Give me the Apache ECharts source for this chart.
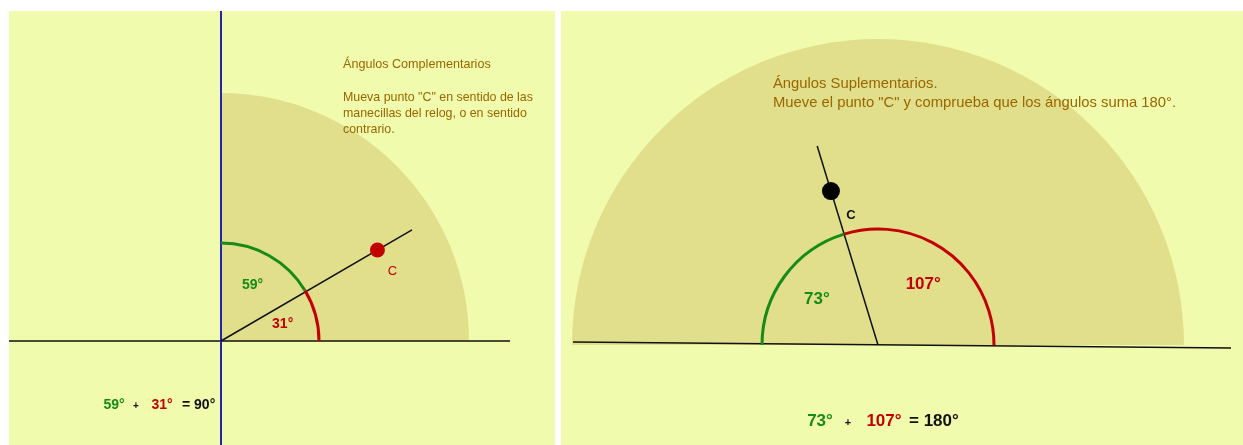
<!DOCTYPE html>
<html>
<head>
<meta charset="utf-8">
<script src="https://cdn.jsdelivr.net/npm/echarts@6/dist/echarts.min.js"></script>
<style>
  html, body { margin: 0; padding: 0; background: #fff; }
  #main { width: 1243px; height: 445px; }
</style>
</head>
<body>
<div id="main"></div>
<script>
// ángulos complementarios (izquierda) y suplementarios (derecha)
var compAngles = [59, 31];   // verde, rojo
var suppAngles = [73, 107];  // verde, rojo
var compTotal = 90;
var suppTotal = 180;

var GREEN = '#178a17', RED = '#c20000', BROWN = '#996600';
var DISC = '#e1df8c', BG = '#f1fbad';
var FONT = 'Arial, "Liberation Sans", sans-serif';

var chart = echarts.init(document.getElementById('main'));
window.chart = chart;

function rad(d) { return d * Math.PI / 180; }
function polar(r, deg) { return [r * Math.cos(rad(deg)), r * Math.sin(rad(deg))]; }

// disco de fondo (sector)
function discSeries(idx, from, to, r) {
    return {
        type: 'custom', xAxisIndex: idx, yAxisIndex: idx, z: 1, silent: true,
        data: [[from, to]],
        renderItem: function (params, api) {
            var c = api.coord([0, 0]);
            var pr = api.size([r, 0])[0];
            return {
                type: 'sector',
                shape: { cx: c[0], cy: c[1], r0: 0, r: pr, startAngle: -rad(api.value(1)), endAngle: -rad(api.value(0)), clockwise: true },
                style: { fill: DISC }
            };
        }
    };
}

// arcos de los ángulos con su etiqueta
function arcSeries(idx, arcs, colors, r, labelR, fontSize) {
    return {
        type: 'custom', xAxisIndex: idx, yAxisIndex: idx, z: 4, silent: true,
        data: arcs,
        renderItem: function (params, api) {
            var c = api.coord([0, 0]);
            var pr = api.size([r, 0])[0];
            var a0 = api.value(0), a1 = api.value(1);
            var lp = api.coord(polar(labelR, (a0 + a1) / 2));
            var col = colors[params.dataIndex];
            return {
                type: 'group',
                children: [{
                    type: 'arc',
                    shape: { cx: c[0], cy: c[1], r: pr, startAngle: -rad(a1), endAngle: -rad(a0), clockwise: true },
                    style: { stroke: col, lineWidth: 3, fill: null }
                }, {
                    type: 'text',
                    x: lp[0], y: lp[1],
                    style: { text: Math.round(a1 - a0) + '°', fill: col, font: 'bold ' + fontSize + 'px ' + FONT, align: 'center', verticalAlign: 'middle' }
                }]
            };
        }
    };
}

function lineSeries(idx, pts, color, width) {
    return {
        type: 'line', xAxisIndex: idx, yAxisIndex: idx, z: 3, silent: true,
        data: pts, symbol: 'none',
        lineStyle: { color: color, width: width }
    };
}

function pointSeries(idx, pt, color, size, labelColor, offset, bold) {
    return {
        type: 'scatter', xAxisIndex: idx, yAxisIndex: idx, z: 5, silent: true,
        data: [pt], symbolSize: size,
        itemStyle: { color: color, opacity: 1 },
        label: {
            show: true, formatter: 'C', position: 'inside', offset: offset,
            color: labelColor, fontFamily: FONT, fontSize: 13, fontWeight: bold ? 'bold' : 'normal'
        }
    };
}

// izquierda: verde desde el rayo hasta 90°, rojo desde 0° hasta el rayo
var compRay = compAngles[1];
var compArcs = [[compRay, compRay + compAngles[0]], [0, compRay]];
// derecha: rojo desde 0° hasta el rayo, verde desde el rayo hasta 180°
var suppRay = suppAngles[1];
var suppArcs = [[suppRay, suppRay + suppAngles[0]], [0, suppRay]];

var option = {
    animation: false,
    backgroundColor: '#fff',
    grid: [
        { left: 9, top: 11, width: 546, height: 434, show: true, backgroundColor: BG, borderWidth: 0 },
        { left: 561, top: 11, width: 682, height: 434, show: true, backgroundColor: BG, borderWidth: 0 }
    ],
    xAxis: [
        { gridIndex: 0, type: 'value', min: -212, max: 334, show: false },
        { gridIndex: 1, type: 'value', min: -317, max: 365, show: false }
    ],
    yAxis: [
        { gridIndex: 0, type: 'value', min: -104, max: 330, show: false },
        { gridIndex: 1, type: 'value', min: -100, max: 334, show: false }
    ],
    series: [
        discSeries(0, 0, compTotal, 248),
        discSeries(1, 0, suppTotal, 306),
        lineSeries(0, [[-212, 0], [289, 0]], '#111', 1.5),
        lineSeries(0, [[0, -104], [0, 330]], '#2323b4', 2),
        lineSeries(0, [[0, 0], polar(221, compRay - 0.8)], '#111', 1.5),
        lineSeries(1, [[-305, 3], [353, -3]], '#111', 1.5),
        lineSeries(1, [[0, 0], polar(208, suppRay)], '#111', 1.5),
        arcSeries(0, compArcs, [GREEN, RED], 98, 64, 14),
        arcSeries(1, suppArcs, [GREEN, RED], 116, 76, 17),
        pointSeries(0, polar(181, compRay - 0.8), RED, 15, RED, [15, 21], false),
        pointSeries(1, polar(161, suppRay), '#000', 18, '#111', [20, 24], true)
    ],
    graphic: [
        { type: 'text', z: 100, x: 343, y: 65, style: { text: 'Ángulos Complementarios', fill: BROWN, font: '12.6px ' + FONT, verticalAlign: 'middle' } },
        { type: 'text', z: 100, x: 343, y: 90, style: { text: 'Mueva punto "C" en sentido de las\nmanecillas del relog, o en sentido\ncontrario.', fill: BROWN, font: '12.4px ' + FONT, lineHeight: 16, verticalAlign: 'top' } },
        { type: 'text', z: 100, x: 773, y: 74, style: { text: 'Ángulos Suplementarios.\nMueve el punto "C" y comprueba que los ángulos suma 180°.', fill: BROWN, font: '14.8px ' + FONT, lineHeight: 19, verticalAlign: 'top' } },

        { type: 'text', z: 100, x: 114, y: 405, style: { text: compAngles[0] + '°', fill: GREEN, font: 'bold 14px ' + FONT, align: 'center', verticalAlign: 'middle' } },
        { type: 'text', z: 100, x: 136, y: 406, style: { text: '+', fill: '#111', font: 'bold 10px ' + FONT, align: 'center', verticalAlign: 'middle' } },
        { type: 'text', z: 100, x: 162, y: 405, style: { text: compAngles[1] + '°', fill: RED, font: 'bold 14px ' + FONT, align: 'center', verticalAlign: 'middle' } },
        { type: 'text', z: 100, x: 182, y: 405, style: { text: '= ' + compTotal + '°', fill: '#111', font: 'bold 14px ' + FONT, verticalAlign: 'middle' } },

        { type: 'text', z: 100, x: 820, y: 421, style: { text: suppAngles[0] + '°', fill: GREEN, font: 'bold 17px ' + FONT, align: 'center', verticalAlign: 'middle' } },
        { type: 'text', z: 100, x: 848, y: 423, style: { text: '+', fill: '#111', font: 'bold 11px ' + FONT, align: 'center', verticalAlign: 'middle' } },
        { type: 'text', z: 100, x: 884, y: 421, style: { text: suppAngles[1] + '°', fill: RED, font: 'bold 17px ' + FONT, align: 'center', verticalAlign: 'middle' } },
        { type: 'text', z: 100, x: 909, y: 421, style: { text: '= ' + suppTotal + '°', fill: '#111', font: 'bold 17px ' + FONT, verticalAlign: 'middle' } }
    ]
};

chart.setOption(option);
</script>
</body>
</html>
